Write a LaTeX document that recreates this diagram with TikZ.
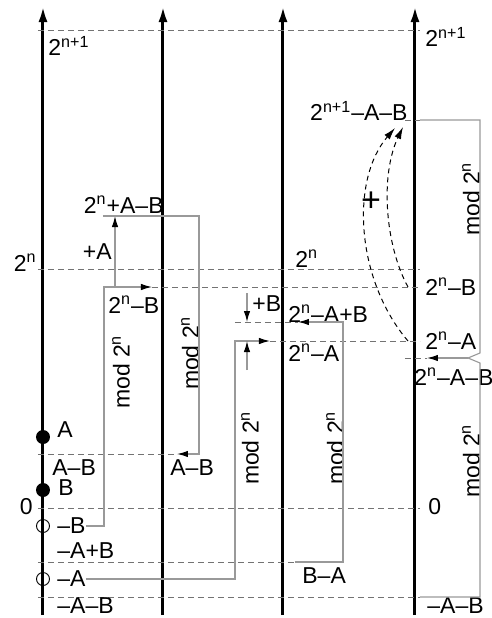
\documentclass[tikz,border=0pt]{standalone}
\usepackage{fontspec}
\setmainfont{Liberation Sans}
\usetikzlibrary{arrows.meta,positioning}
\newcommand{\twon}{2\textsuperscript{n}}
\newcommand{\twonn}{2\textsuperscript{n+1}}
\begin{document}
\begin{tikzpicture}
[
  x=0.5pt, y=-0.5pt,
  every node/.style={font=\fontsize{11.5}{13}\selectfont, inner sep=0pt},
  axis/.style={line width=1.5pt, -{Latex[length=8pt,width=4.5pt]}},
  level/.style={gray!90!black, line width=0.4pt, dash pattern=on 3pt off 2pt},
  link/.style={gray!80, line width=0.55pt},
  tip/.style={-{Latex[length=5.5pt,width=3.2pt,black]}},
  jump/.style={black, line width=0.5pt, dash pattern=on 2.5pt off 2pt, -{Latex[length=6pt,width=3.5pt]}},
  full dot/.style={circle, fill, minimum size=7pt},
  open dot/.style={circle, draw, line width=0.45pt, minimum size=6.5pt},
  modn/.style={rotate=90}
]
\useasboundingbox (0,0) rectangle (492,618);

% the four number lines
\foreach \x in {43,163,283,415}
  \draw [axis] (\x,615) -- (\x,6);

% levels
\foreach \y in {30,269,508,597}
  \draw [level] (38,\y) -- (420,\y);
\draw [level] (38,562) -- (295,562);
\draw [level] (38,454) -- (177,454);
\draw [level] (152,287) -- (420,287);
\draw [level] (270,341) -- (420,341);
\draw [level] (235,322) -- (298,322);
\draw [level] (405,358) -- (427,358);
\draw [level] (405,120) -- (420,120);

% points on the first line
\node (a) [full dot] at (43,437) {};
\node (b) [full dot] at (43,490) {};
\node (mb) [open dot] at (43,526) {};
\node (ma) [open dot] at (43,579) {};

% labels, first line
\node (top1) [anchor=west] at (48,46) {\twonn};
\node (half1) [anchor=east] at (37,263) {\twon};
\node (zero1) [anchor=east] at (33,507) {0};
\node (la) [anchor=west] at (57,430) {A};
\node (lamb) [anchor=west] at (52,468) {A–B};
\node (lb) [anchor=west] at (58,488) {B};
\node (lmb) [anchor=west] at (57,526) {–B};
\node (lmapb) [anchor=west] at (57,551) {–A+B};
\node (lma) [anchor=west] at (57,579) {–A};
\node (lmamb) [anchor=west] at (57,606) {–A–B};

% second line
\node (lhmb) [anchor=west] at (108,305) {\twon–B};
\node (lhpamb) [anchor=east] at (164,205) {\twon+A–B};
\node (lpa) [anchor=east] at (112,252) {+A};
\node (lamb2) [anchor=west] at (170,468) {A–B};
\node [modn] at (121,372) {mod \twon};
\node [modn] at (190,353) {mod \twon};

\coordinate (hmb) at (152,287);
\coordinate (hpamb) at (115,216);
\coordinate (amb) at (177,454);
\draw [link, tip] (lmb.east) -| (104,287) -- (hmb);
\draw [link, tip] (115,287) -- (hpamb);
\draw [link, tip] (103,216) -- (199,216) |- (amb);

% third line
\node (lhalf3) [anchor=west] at (295,259) {\twon};
\node (lpb) [anchor=west] at (252,304) {+B};
\node (lhmapb) [anchor=west] at (288,314) {\twon–A+B};
\node (lhma3) [anchor=west] at (288,353) {\twon–A};
\node (lbma) [anchor=west] at (302,576) {B–A};
\node [modn] at (250,448) {mod \twon};
\node [modn] at (335,448) {mod \twon};

\coordinate (hma) at (270,341);
\coordinate (hmapb) at (298,322);
\draw [link, tip] (lma.east) -| (235,341) -- (hma);
\draw [link, tip] (295,562) -| (343,322) -- (hmapb);
\draw [link, tip] (247,293) -- (247,322);
\draw [link, tip] (247,370) -- (247,341);

% fourth line
\node (top4) [anchor=west] at (425,37) {\twonn};
\node (lsum) [anchor=east] at (408,111) {\twonn–A–B};
\node (lhmb4) [anchor=west] at (425,287) {\twon–B};
\node (lhma4) [anchor=west] at (425,341) {\twon–A};
\node (lhmamb) [anchor=west] at (414,377) {\twon–A–B};
\node (zero4) [anchor=west] at (428,507) {0};
\node (lmamb4) [anchor=west] at (427,606) {–A–B};
\node (plus) [font=\fontsize{17}{17}\selectfont] at (371,202) {+};
\node [modn] at (471,199) {mod \twon};
\node [modn] at (471,461) {mod \twon};

\coordinate (notch) at (468,358);
\coordinate (hmamb) at (427,358);
\draw [link] (420,120) -| (480,353) -- (notch);
\draw [link] (420,597) -| (480,363) -- (notch);
\draw [link, tip] (notch) -- (hmamb);

% the two additions
\draw [jump] (408,341) .. controls (356,280) and (350,180) .. (395,128);
\draw [jump] (408,287) .. controls (385,245) and (380,175) .. (403,127);
\end{tikzpicture}
\end{document}
